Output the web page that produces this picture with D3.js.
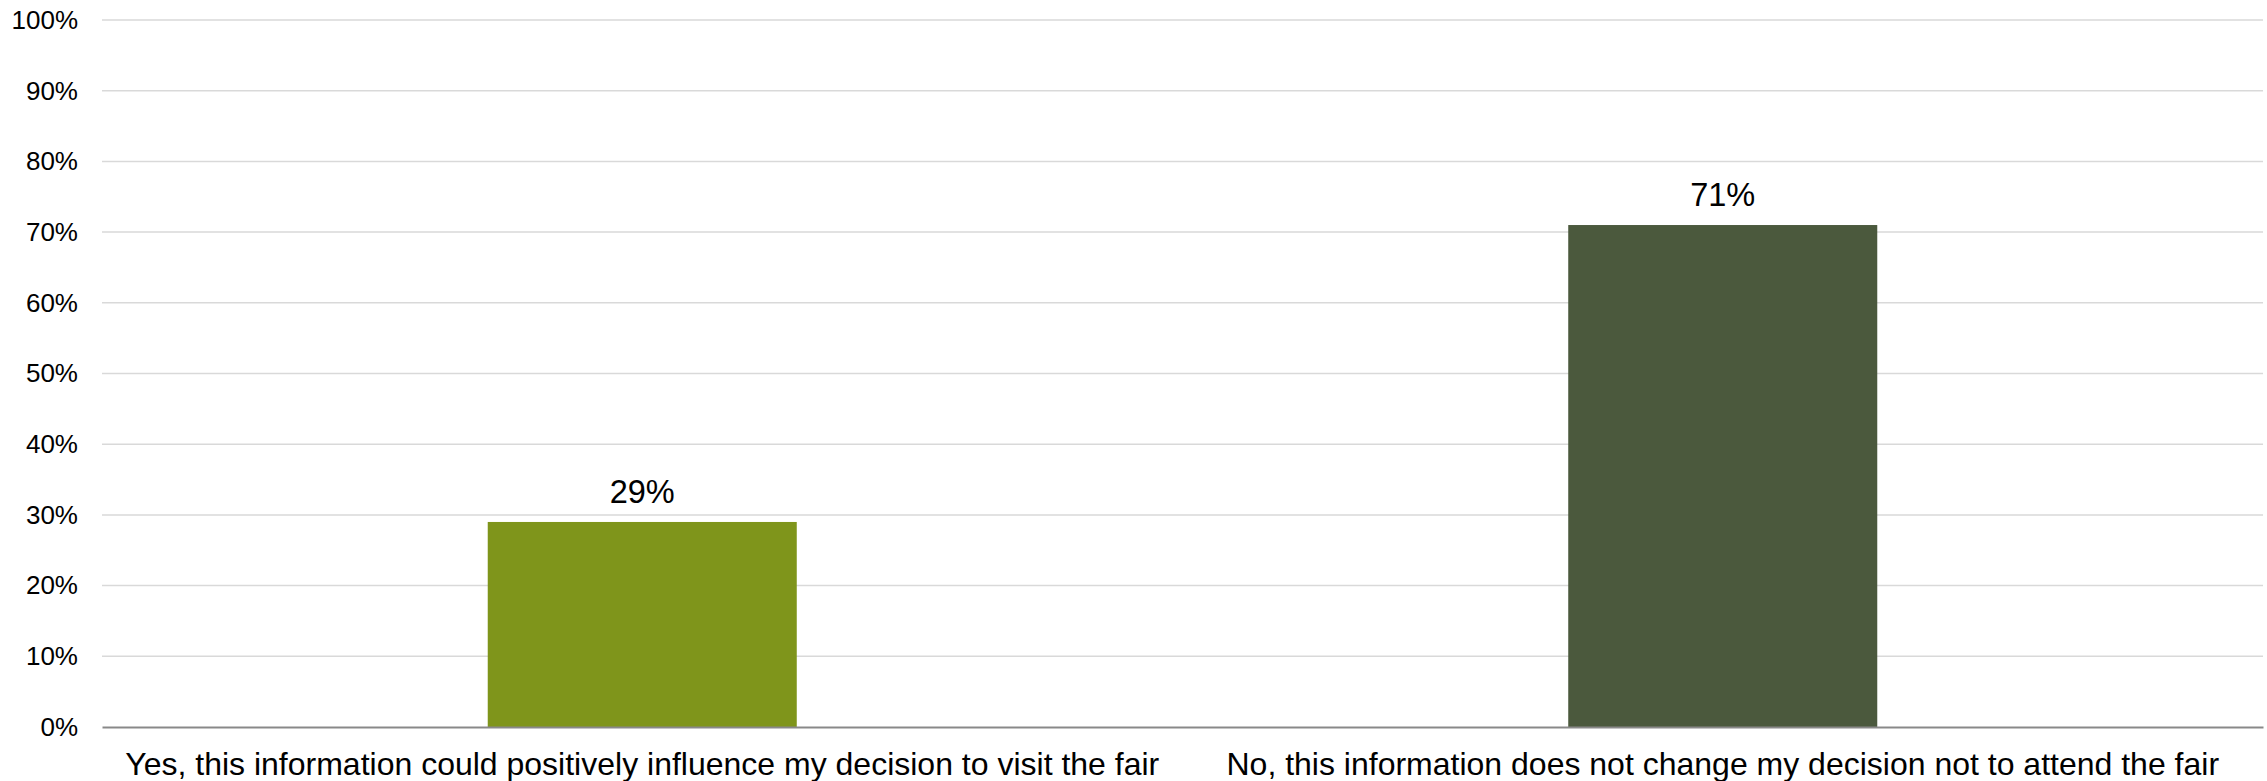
<!DOCTYPE html>
<html>
<head>
<meta charset="utf-8">
<script src="https://cdn.jsdelivr.net/npm/d3@7"></script>
<style>
  html, body { margin: 0; padding: 0; background: #ffffff; }
  svg { display: block; font-family: "Liberation Sans", Arial, sans-serif; }
</style>
</head>
<body>
<svg id="chart" width="2267" height="781"></svg>
<script>
// Survey answers and their shares
const categories = [
  "Yes, this information could positively influence my decision to visit the fair",
  "No, this information does not change my decision not to attend the fair"
];
const values = [29, 71];
const barColors = ["#7f951b", "#4b593d"];
const tickValues = [0, 10, 20, 30, 40, 50, 60, 70, 80, 90, 100];

const W = 2267, H = 781;
const margin = { top: 20, right: 4, bottom: 54, left: 102 };
const svg = d3.select("#chart");

const x = d3.scaleBand()
  .domain(categories)
  .range([margin.left, W - margin.right])
  .paddingInner(0.714)
  .paddingOuter(0.357);

const y = d3.scaleLinear()
  .domain([0, 100])
  .range([H - margin.bottom, margin.top]);

// Horizontal gridlines
svg.append("g")
  .selectAll("line")
  .data(tickValues.filter(d => d > 0))
  .join("line")
  .attr("x1", margin.left)
  .attr("x2", W - margin.right)
  .attr("y1", d => y(d))
  .attr("y2", d => y(d))
  .attr("stroke", "#d9d9d9")
  .attr("stroke-width", 1.5);

// Y axis labels
const yAxis = d3.axisLeft(y)
  .tickValues(tickValues)
  .tickFormat(d => d + "%")
  .tickSize(0)
  .tickPadding(24);
const yg = svg.append("g")
  .attr("transform", `translate(${margin.left},0)`)
  .call(yAxis);
yg.select(".domain").remove();
yg.selectAll("text")
  .attr("font-size", 26)
  .attr("fill", "#000")
  .attr("font-family", "Liberation Sans, Arial, sans-serif");

// Bars
svg.append("g")
  .selectAll("rect")
  .data(values)
  .join("rect")
  .attr("x", (d, i) => x(categories[i]))
  .attr("width", x.bandwidth())
  .attr("y", d => y(d))
  .attr("height", d => y(0) - y(d))
  .attr("fill", (d, i) => barColors[i]);

// Value labels
svg.append("g")
  .selectAll("text")
  .data(values)
  .join("text")
  .attr("x", (d, i) => x(categories[i]) + x.bandwidth() / 2)
  .attr("y", d => y(d) - 19)
  .attr("text-anchor", "middle")
  .attr("font-size", 32.5)
  .attr("fill", "#000")
  .text(d => d + "%");

// Baseline and category axis
const xAxis = d3.axisBottom(x).tickSize(0).tickPadding(25);
const xg = svg.append("g")
  .attr("transform", `translate(0,${y(0)})`)
  .call(xAxis);
xg.select(".domain")
  .attr("stroke", "#898989")
  .attr("stroke-width", 2);
xg.selectAll("text")
  .attr("font-size", 32)
  .attr("fill", "#000")
  .attr("font-family", "Liberation Sans, Arial, sans-serif");
</script>
</body>
</html>
